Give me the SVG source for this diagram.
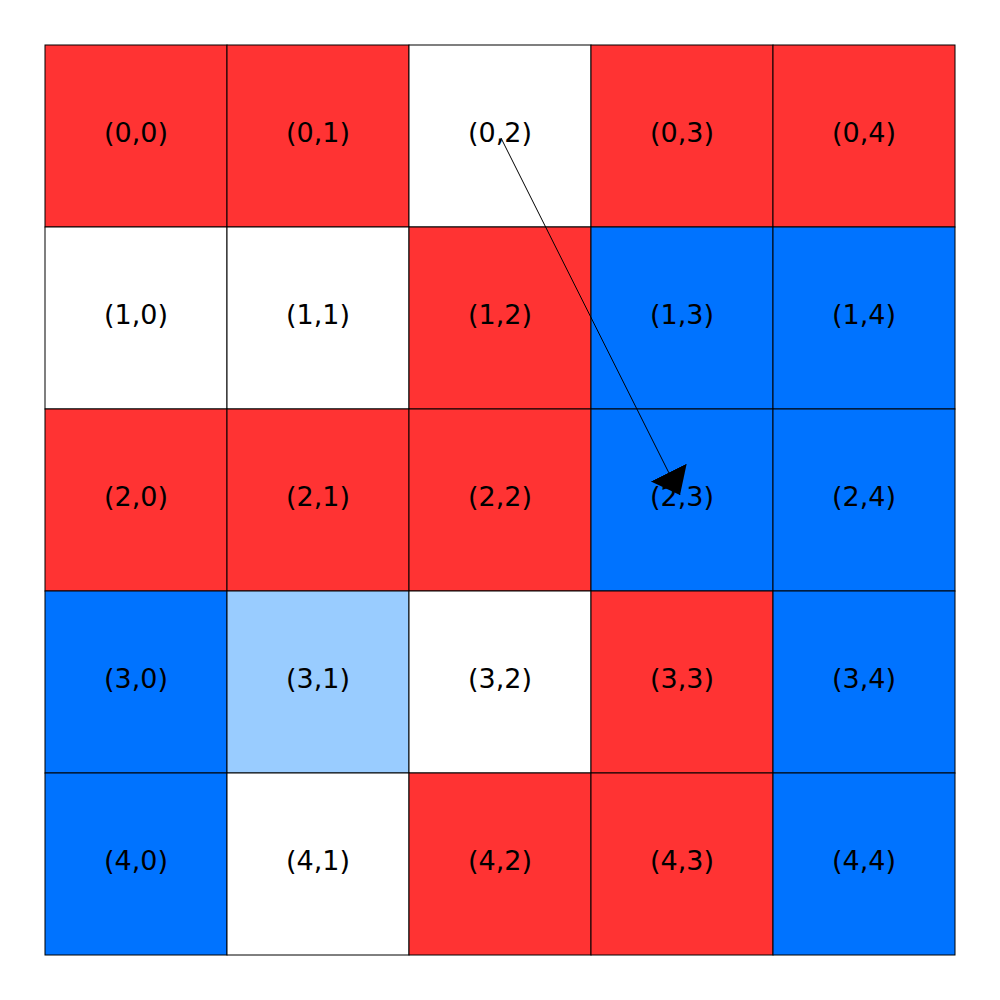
<svg xmlns="http://www.w3.org/2000/svg" width="1000" height="1000" viewBox="0 0 1000 1000">
<style>
rect{stroke:#000;stroke-width:1}
.r{fill:#FF3333}.w{fill:#FFFFFF}.b{fill:#0073FF}.l{fill:#99CCFF}
text{font-family:"DejaVu Sans",sans-serif;font-size:27px;text-anchor:middle;fill:#000}
</style>
<defs>
<marker id="ah" markerUnits="userSpaceOnUse" markerWidth="30" markerHeight="44" refX="25" refY="20" orient="auto" viewBox="0 0 30 44">
<path d="M0,0 L25,20 L0,40 Z" fill="#000"/>
</marker>
</defs>
<rect width="1000" height="1000" fill="#fff" style="stroke:none"/>
<g id="c00"><rect class="r" x="45" y="45" width="182" height="182"/><text x="136" y="142">(0,0)</text></g>
<g id="c01"><rect class="r" x="227" y="45" width="182" height="182"/><text x="318" y="142">(0,1)</text></g>
<g id="c02"><rect class="w" x="409" y="45" width="182" height="182"/><text x="500" y="142">(0,2)</text></g>
<g id="c03"><rect class="r" x="591" y="45" width="182" height="182"/><text x="682" y="142">(0,3)</text></g>
<g id="c04"><rect class="r" x="773" y="45" width="182" height="182"/><text x="864" y="142">(0,4)</text></g>
<g id="c10"><rect class="w" x="45" y="227" width="182" height="182"/><text x="136" y="324">(1,0)</text></g>
<g id="c11"><rect class="w" x="227" y="227" width="182" height="182"/><text x="318" y="324">(1,1)</text></g>
<g id="c12"><rect class="r" x="409" y="227" width="182" height="182"/><text x="500" y="324">(1,2)</text></g>
<g id="c13"><rect class="b" x="591" y="227" width="182" height="182"/><text x="682" y="324">(1,3)</text></g>
<g id="c14"><rect class="b" x="773" y="227" width="182" height="182"/><text x="864" y="324">(1,4)</text></g>
<g id="c20"><rect class="r" x="45" y="409" width="182" height="182"/><text x="136" y="506">(2,0)</text></g>
<g id="c21"><rect class="r" x="227" y="409" width="182" height="182"/><text x="318" y="506">(2,1)</text></g>
<g id="c22"><rect class="r" x="409" y="409" width="182" height="182"/><text x="500" y="506">(2,2)</text></g>
<g id="c23"><rect class="b" x="591" y="409" width="182" height="182"/><text x="682" y="506">(2,3)</text></g>
<g id="c24"><rect class="b" x="773" y="409" width="182" height="182"/><text x="864" y="506">(2,4)</text></g>
<g id="c30"><rect class="b" x="45" y="591" width="182" height="182"/><text x="136" y="688">(3,0)</text></g>
<g id="c31"><rect class="l" x="227" y="591" width="182" height="182"/><text x="318" y="688">(3,1)</text></g>
<g id="c32"><rect class="w" x="409" y="591" width="182" height="182"/><text x="500" y="688">(3,2)</text></g>
<g id="c33"><rect class="r" x="591" y="591" width="182" height="182"/><text x="682" y="688">(3,3)</text></g>
<g id="c34"><rect class="b" x="773" y="591" width="182" height="182"/><text x="864" y="688">(3,4)</text></g>
<g id="c40"><rect class="b" x="45" y="773" width="182" height="182"/><text x="136" y="870">(4,0)</text></g>
<g id="c41"><rect class="w" x="227" y="773" width="182" height="182"/><text x="318" y="870">(4,1)</text></g>
<g id="c42"><rect class="r" x="409" y="773" width="182" height="182"/><text x="500" y="870">(4,2)</text></g>
<g id="c43"><rect class="r" x="591" y="773" width="182" height="182"/><text x="682" y="870">(4,3)</text></g>
<g id="c44"><rect class="b" x="773" y="773" width="182" height="182"/><text x="864" y="870">(4,4)</text></g>
<g id="connectors">
<line x1="501" y1="138" x2="680" y2="495" stroke="#000" stroke-width="1" marker-end="url(#ah)"/>
</g>
</svg>
